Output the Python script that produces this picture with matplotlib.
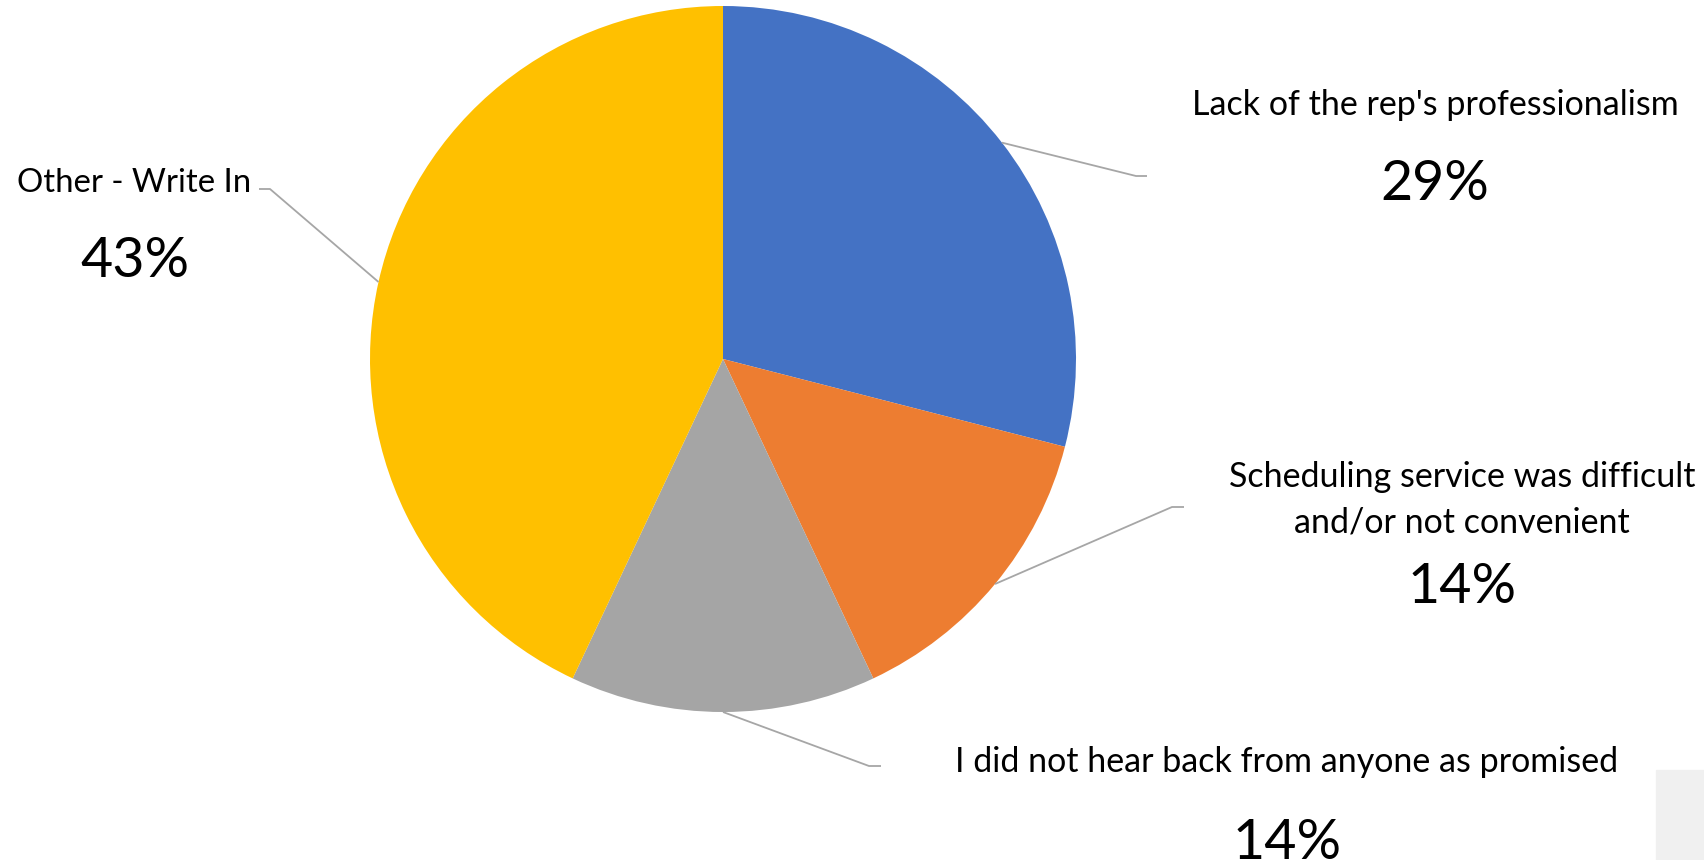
import numpy as np
import matplotlib
matplotlib.use("Agg")
import matplotlib.pyplot as plt
from matplotlib.patches import Rectangle

# ── data ──
labels = [
    ["Lack of the rep's professionalism"],
    ["Scheduling service was difficult", "and/or not convenient"],
    ["I did not hear back from anyone as promised"],
    ["Other - Write In"],
]
shares = [29, 14, 14, 43]
pct_text = ["29%", "14%", "14%", "43%"]
colors = ["#4472C4", "#ED7D31", "#A5A5A5", "#FFC000"]

W, H = 1704, 860
FONT = "Lato"
NAME_SIZE = 24.5
PCT_SIZE = 40

fig = plt.figure(figsize=(W / 100, H / 100), dpi=100)
fig.patch.set_facecolor("white")
ax = fig.add_axes([0, 0, 1, 1])


def py(y):
    # pixel row (from top) -> data y
    return H - y


cx, cy, r = 723, py(359), 353

wedges, _ = ax.pie(shares, colors=colors, startangle=90, counterclock=False,
                   center=(cx, cy), radius=r, frame=True,
                   wedgeprops=dict(linewidth=0))
ax.set_xlim(0, W)
ax.set_ylim(0, H)
ax.set_aspect("equal")
ax.axis("off")

# light grey block in the bottom right corner
ax.add_patch(Rectangle((1656, 0), W - 1656, py(770), color="#f0f0f0", zorder=0))

# label layout: text x, name baselines, pct baseline, leader elbow and end
layout = [
    dict(x=1435, tb=[115], pb=200, elbow=(1136, 176), end=(1147, 176)),
    dict(x=1462, tb=[487, 532], pb=603, elbow=(1172, 507), end=(1184, 507)),
    dict(x=1287, tb=[772], pb=859, elbow=(869, 766), end=(881, 766)),
    dict(x=135, tb=[192], pb=277, elbow=(270, 189), end=(259, 189)),
]

for i, (w, lay) in enumerate(zip(wedges, layout)):
    mid = 0.5 * (w.theta1 + w.theta2)
    if i == 3:
        # Excel hooks this leader to the upper half of the slice
        mid = 180 - (mid - 180) if mid > 180 else mid
    ang = np.deg2rad(mid)
    ax0, ay0 = cx + r * np.cos(ang), cy + r * np.sin(ang)
    ex, ey = lay["elbow"]
    nx, ny = lay["end"]
    ax.plot([ax0, ex, nx], [ay0, py(ey), py(ny)], color="#a6a6a6", lw=1.3,
            solid_capstyle="butt", zorder=3)

    for line, base in zip(labels[i], lay["tb"]):
        if i == 3:
            ax.text(17, py(base), line, ha="left", va="baseline",
                    fontsize=NAME_SIZE - 0.8, family=FONT, color="black")
        else:
            ax.text(lay["x"], py(base), line, ha="center", va="baseline",
                    fontsize=NAME_SIZE, family=FONT, color="black")
    ax.text(lay["x"], py(lay["pb"]), pct_text[i], ha="center", va="baseline",
            fontsize=PCT_SIZE, family=FONT, color="black")

fig.savefig("out.png", dpi=100, facecolor="white")
